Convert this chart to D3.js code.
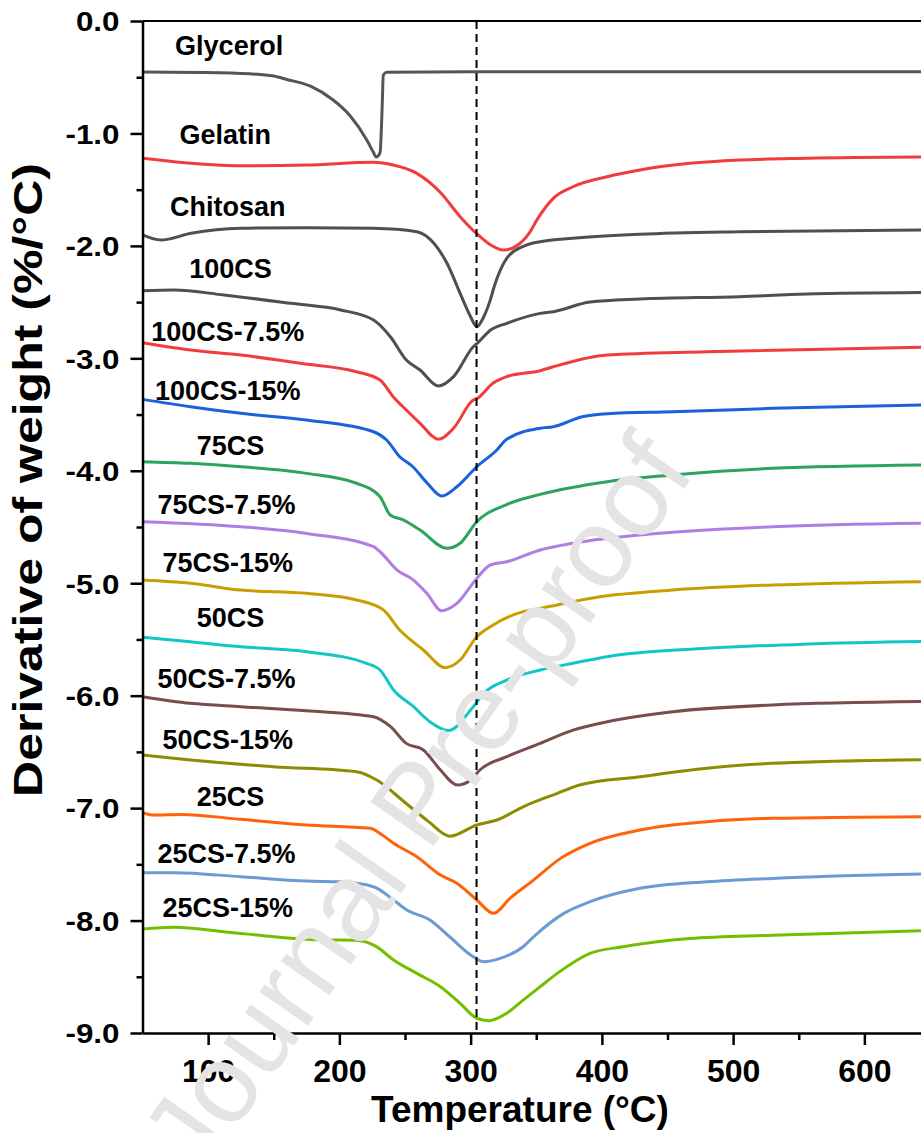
<!DOCTYPE html>
<html>
<head>
<meta charset="utf-8">
<script src="https://cdn.jsdelivr.net/npm/d3@7"></script>
<style>
  body { margin: 0; background: #fff; }
  svg { display: block; }
</style>
</head>
<body>
<script>
// ---- data (temperature °C, derivative of weight %/°C) ----
const glycerol = [[50,-0.454],[94,-0.458],[132,-0.47],[150,-0.49],[160,-0.52],[178,-0.58],[195,-0.70],[208,-0.84],[221,-1.06],[226,-1.17],[228,-1.21],[231,-1.17],[232.5,-0.8],[233.5,-0.48],[236,-0.455],[300,-0.452],[400,-0.452],[500,-0.452],[650,-0.452]];
const gelatin = [[50,-1.221],[74,-1.251],[125,-1.287],[175,-1.281],[226,-1.257],[241,-1.281],[259,-1.355],[277,-1.525],[292,-1.74],[305,-1.895],[315,-1.99],[325,-2.037],[335,-2.0],[345,-1.88],[351,-1.76],[363,-1.577],[378,-1.474],[404,-1.385],[429,-1.325],[467,-1.266],[505,-1.236],[556,-1.221],[650,-1.21]];
const chitosan = [[50,-1.903],[64,-1.948],[87,-1.888],[125,-1.844],[175,-1.838],[226,-1.844],[259,-1.874],[272,-1.977],[282,-2.155],[292,-2.422],[300,-2.63],[304.7,-2.719],[310,-2.63],[315,-2.48],[318,-2.36],[327.5,-2.11],[341,-2.0],[353,-1.963],[378,-1.933],[429,-1.897],[505,-1.874],[650,-1.858]];
const cs100 = [[50,-2.398],[74,-2.392],[112,-2.437],[163,-2.511],[201,-2.57],[226,-2.659],[239,-2.81],[251,-3.015],[261.5,-3.104],[275.5,-3.246],[287,-3.163],[302,-2.897],[305,-2.866],[315,-2.75],[327.5,-2.689],[353,-2.6],[363,-2.585],[391,-2.5],[429,-2.473],[505,-2.452],[556,-2.428],[650,-2.415]];
const cs100_75 = [[50,-2.861],[86.5,-2.926],[125,-2.97],[170,-3.044],[213,-3.119],[231,-3.193],[241,-3.341],[251,-3.46],[261.5,-3.578],[275.5,-3.72],[287,-3.622],[302,-3.371],[305,-3.356],[317,-3.222],[327.5,-3.163],[353,-3.11],[363,-3.075],[404,-2.97],[480,-2.941],[650,-2.9]];
const cs100_15 = [[50,-3.365],[86.5,-3.43],[125,-3.489],[175,-3.549],[226,-3.653],[236,-3.726],[246,-3.875],[256,-3.964],[267,-4.111],[278,-4.224],[289.5,-4.142],[304.7,-3.964],[320,-3.815],[327.5,-3.72],[353,-3.622],[363,-3.608],[385,-3.52],[404,-3.492],[454,-3.475],[530,-3.445],[650,-3.413]];
const cs75 = [[50,-3.919],[86.5,-3.934],[125,-3.964],[175,-4.023],[213,-4.111],[231,-4.23],[238.7,-4.393],[249,-4.438],[261.5,-4.527],[282,-4.69],[292,-4.645],[304.7,-4.453],[327.5,-4.3],[353,-4.21],[404,-4.097],[454,-4.038],[530,-3.978],[650,-3.948]];
const cs75_75 = [[50,-4.453],[125,-4.498],[175,-4.557],[226,-4.675],[231,-4.72],[244,-4.883],[256.5,-4.972],[266.6,-5.09],[278,-5.245],[289.5,-5.18],[304.7,-4.957],[315,-4.838],[327.5,-4.809],[353,-4.705],[378,-4.645],[429,-4.571],[530,-4.498],[650,-4.466]];
const cs75_15 = [[50,-4.972],[86.5,-5.001],[125,-5.061],[175,-5.09],[213,-5.149],[233.6,-5.238],[246,-5.416],[264,-5.594],[280.6,-5.751],[292,-5.683],[304.7,-5.476],[315,-5.387],[340,-5.253],[353,-5.224],[398.5,-5.12],[454,-5.06],[530,-5.016],[650,-4.985]];
const cs50 = [[50,-5.481],[86.5,-5.52],[125,-5.565],[175,-5.609],[220.7,-5.712],[231,-5.772],[241.3,-5.95],[256.5,-6.098],[269,-6.232],[283,-6.31],[302,-6.098],[310,-5.979],[327.5,-5.861],[353,-5.772],[378,-5.712],[404,-5.653],[480,-5.579],[556,-5.541],[650,-5.518]];
const cs50_75 = [[50,-6.009],[86.5,-6.068],[125,-6.098],[175,-6.134],[226,-6.187],[239,-6.276],[251,-6.424],[264,-6.483],[277,-6.661],[290,-6.795],[300,-6.75],[307,-6.661],[327.5,-6.543],[353,-6.424],[378,-6.306],[404,-6.232],[454,-6.143],[530,-6.083],[650,-6.052]];
const cs50_15 = [[50,-6.528],[86.5,-6.572],[150,-6.632],[213,-6.676],[228.5,-6.75],[250,-6.95],[268,-7.12],[284,-7.25],[304.7,-7.15],[320,-7.106],[340,-6.988],[366,-6.869],[383,-6.795],[429,-6.721],[480,-6.646],[530,-6.602],[650,-6.57]];
const cs25 = [[50,-7.041],[58.6,-7.062],[79,-7.056],[125,-7.1],[175,-7.15],[223.5,-7.18],[231,-7.225],[241.3,-7.313],[259,-7.432],[277,-7.595],[289.5,-7.669],[304.7,-7.817],[317.4,-7.936],[330,-7.802],[348,-7.64],[368.5,-7.447],[391,-7.313],[429,-7.195],[480,-7.121],[530,-7.091],[650,-7.076]];
const cs25_75 = [[50,-7.574],[74,-7.574],[125,-7.61],[175,-7.649],[201,-7.655],[226,-7.699],[241.3,-7.817],[251.4,-7.906],[269,-7.995],[284,-8.144],[302,-8.322],[310,-8.366],[322.5,-8.336],[340,-8.233],[348,-8.144],[371,-7.936],[391,-7.832],[429,-7.713],[480,-7.655],[530,-7.625],[650,-7.585]];
const cs25_15 = [[50,-8.075],[74,-8.06],[112,-8.099],[150,-8.144],[188,-8.173],[213,-8.175],[228,-8.23],[241.3,-8.351],[259,-8.47],[277,-8.588],[292,-8.736],[304.7,-8.869],[314,-8.89],[327.5,-8.824],[340,-8.707],[353,-8.588],[366,-8.47],[391,-8.292],[416,-8.233],[467,-8.159],[530,-8.13],[650,-8.088]];

const names = ["Glycerol", "Gelatin", "Chitosan", "100CS", "100CS-7.5%", "100CS-15%", "75CS", "75CS-7.5%",
  "75CS-15%", "50CS", "50CS-7.5%", "50CS-15%", "25CS", "25CS-7.5%", "25CS-15%"];
const values = [glycerol, gelatin, chitosan, cs100, cs100_75, cs100_15, cs75, cs75_75,
  cs75_15, cs50, cs50_75, cs50_15, cs25, cs25_75, cs25_15];
// label anchors (°C, %/°C)
const labelX = [116, 113, 115, 117, 115, 115, 117, 114, 115, 117, 114, 115, 117, 114, 115];
const labelY = [-0.30, -1.09, -1.73, -2.29, -2.85, -3.37, -3.86, -4.38, -4.90, -5.39, -5.93, -6.47, -6.98, -7.49, -7.97];
const xTicks = [100, 200, 300, 400, 500, 600];
const xMinor = [150, 250, 350, 450, 550];
const yTicks = [0, -1, -2, -3, -4, -5, -6, -7, -8, -9];
const yMinor = [-0.5, -1.5, -2.5, -3.5, -4.5, -5.5, -6.5, -7.5, -8.5];
const markerT = 304.5;

const colors = ["#555555", "#f03c3c", "#4f4f4f", "#4f4f4f", "#f03c3c", "#1a62dc", "#2ea35e", "#b07ee2",
  "#c99f00", "#12c6c6", "#7a4d4d", "#8c8c00", "#ff6209", "#6a9bd2", "#74be00"];

const FONT = "'Liberation Sans', Arial, Helvetica, sans-serif";
const W = 921, H = 1133;

const svg = d3.select("body").append("svg")
  .attr("width", W)
  .attr("height", H)
  .attr("font-family", FONT);

const x = d3.scaleLinear().domain([50, 650]).range([142.5, 930]);
const y = d3.scaleLinear().domain([-9, 0]).range([1033, 21]);

// stretch text horizontally (original figure uses wider lettering)
function stretch(sel, k) {
  sel.each(function() {
    const w = this.getComputedTextLength();
    d3.select(this).attr("textLength", w * k).attr("lengthAdjust", "spacingAndGlyphs");
  });
}

// curves
const line = d3.line()
  .x(d => x(d[0]))
  .y(d => y(d[1]))
  .curve(d3.curveMonotoneX);

svg.append("g")
  .selectAll("path")
  .data(values)
  .join("path")
  .attr("d", line)
  .attr("fill", "none")
  .attr("stroke", (d, i) => colors[i])
  .attr("stroke-width", 3)
  .attr("stroke-linejoin", "round");

// dashed marker line
svg.append("line")
  .attr("x1", x(markerT)).attr("x2", x(markerT))
  .attr("y1", y(0)).attr("y2", y(-9))
  .attr("stroke", "#000")
  .attr("stroke-width", 2)
  .attr("stroke-dasharray", "8,5");

// top frame line
svg.append("line")
  .attr("x1", x(50)).attr("x2", x(650))
  .attr("y1", y(0)).attr("y2", y(0))
  .attr("stroke", "#000")
  .attr("stroke-width", 2);

// y axis
const yAxis = svg.append("g")
  .attr("transform", `translate(${x(50)},0)`)
  .call(d3.axisLeft(y).tickValues(yTicks).tickSize(12).tickSizeOuter(0).tickPadding(11)
    .tickFormat(d => d.toFixed(1)));
svg.append("g")
  .attr("transform", `translate(${x(50)},0)`)
  .call(d3.axisLeft(y).tickValues(yMinor).tickSize(6).tickSizeOuter(0).tickFormat(""))
  .call(g => g.select(".domain").remove())
  .selectAll("line").attr("stroke-width", 2.5);

// x axis
const xAxis = svg.append("g")
  .attr("transform", `translate(0,${y(-9)})`)
  .call(d3.axisBottom(x).tickValues(xTicks).tickSize(12).tickSizeOuter(0).tickFormat(d3.format("d")));
svg.append("g")
  .attr("transform", `translate(0,${y(-9)})`)
  .call(d3.axisBottom(x).tickValues(xMinor).tickSize(7).tickSizeOuter(0).tickFormat(""))
  .call(g => g.select(".domain").remove())
  .selectAll("line").attr("stroke-width", 2.5);

[yAxis, xAxis].forEach(g => {
  g.attr("font-family", FONT).attr("font-weight", "bold");
  g.select(".domain").attr("stroke-width", 2.5);
  g.selectAll(".tick line").attr("stroke-width", 2.5);
  g.selectAll("text").attr("fill", "#000");
});
yAxis.attr("font-size", 28);
yAxis.selectAll("text").attr("dy", "0.35em").call(stretch, 1.12);
xAxis.attr("font-size", 32);
xAxis.selectAll("text").attr("y", 49).attr("dy", null);

// axis titles
svg.append("text")
  .attr("x", 520)
  .attr("y", 1122)
  .attr("text-anchor", "middle")
  .attr("font-size", 37)
  .attr("font-weight", "bold")
  .text("Temperature (°C)");

svg.append("text")
  .attr("transform", "translate(42,480) rotate(-90)")
  .attr("text-anchor", "middle")
  .attr("font-size", 40)
  .attr("font-weight", "bold")
  .text("Derivative of weight (%/°C)")
  .call(stretch, 1.25);

// curve labels
svg.append("g")
  .selectAll("text")
  .data(names)
  .join("text")
  .attr("x", (d, i) => x(labelX[i]))
  .attr("y", (d, i) => y(labelY[i]))
  .attr("text-anchor", "middle")
  .attr("font-size", 27)
  .attr("font-weight", "bold")
  .attr("fill", "#000")
  .text(d => d);

// watermark
svg.append("text")
  .attr("transform", "translate(200,1180) rotate(-55)")
  .attr("font-size", 112)
  .attr("fill", "#e4e4e4")
  .text("Journal Pre-proof");
</script>
</body>
</html>
